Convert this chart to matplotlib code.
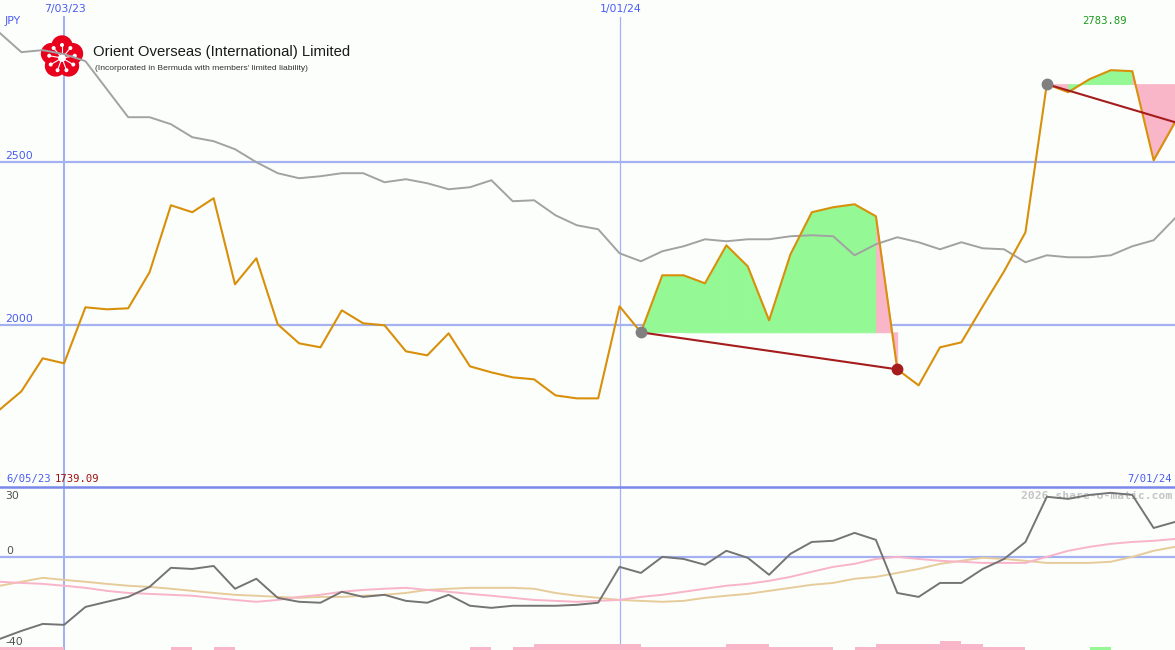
# -*- coding:utf-8 -*-

import numpy as np
import pandas as pd
import matplotlib
matplotlib.use('Agg')
import matplotlib.pyplot as plt
import matplotlib.transforms as mtransforms
from matplotlib.patches import Circle

# weekly data, 2023-06-12 .. 2024-07-01
dates = pd.date_range('2023-06-12', periods=56, freq='7D')

price = [1739.09, 1794.6, 1896.3, 1880.9, 2053.5, 2047.3, 2050.4, 2161.3, 2367.8, 2346.3,
         2389.4, 2124.4, 2204.5, 2001.1, 1942.5, 1930.2, 2044.2, 2004.2, 1998.0, 1917.9,
         1905.5, 1973.3, 1871.6, 1853.1, 1837.7, 1831.6, 1782.2, 1773.0, 1773.0, 2056.5,
         1976.4, 2152.1, 2152.1, 2127.4, 2244.5, 2179.8, 2013.4, 2216.8, 2346.3, 2361.7,
         2370.9, 2333.9, 1862.4, 1813.1, 1930.2, 1945.6, 2056.5, 2164.4, 2284.6, 2740.8,
         2716.1, 2756.2, 2783.89, 2780.8, 2506.5, 2623.6]

# comparison index (gray), rescaled to price
index_line = [2897.9, 2839.4, 2845.5, 2833.2, 2811.6, 2725.3, 2639.0, 2639.0, 2617.5, 2577.4,
              2565.1, 2540.4, 2500.4, 2466.5, 2451.0, 2457.2, 2466.5, 2466.5, 2438.7, 2448.0,
              2435.6, 2417.1, 2423.3, 2444.9, 2380.2, 2383.2, 2337.0, 2306.2, 2293.9, 2219.9,
              2195.2, 2226.1, 2241.5, 2263.0, 2256.9, 2263.0, 2263.0, 2272.3, 2275.4, 2272.3,
              2213.7, 2247.6, 2269.2, 2253.8, 2232.2, 2253.8, 2235.3, 2232.2, 2192.2, 2213.7,
              2207.6, 2207.6, 2213.7, 2241.5, 2260.0, 2327.8]

momentum = [-35.2, -31.8, -28.8, -29.2, -21.5, -19.3, -17.2, -12.9, -4.7, -5.2,
            -3.9, -13.7, -9.4, -17.6, -19.3, -19.7, -15.0, -17.2, -16.3, -18.9,
            -19.7, -16.3, -21.0, -21.9, -21.0, -21.0, -21.0, -20.6, -19.7, -4.3,
            -6.9, 0.0, -0.9, -3.4, 2.6, -0.4, -7.7, 1.3, 6.4, 6.9,
            10.3, 7.3, -15.5, -17.2, -11.2, -11.2, -5.2, -0.9, 6.4, 25.8,
            24.9, 26.6, 27.5, 26.6, 12.4, 15.0]

avg_fast = [-10.7, -11.2, -11.6, -12.4, -13.3, -14.6, -15.5, -15.9, -16.3, -16.7,
            -17.6, -18.5, -19.3, -18.5, -17.2, -16.3, -15.0, -14.2, -13.7, -13.3,
            -14.2, -15.0, -15.9, -16.7, -17.6, -18.5, -18.9, -19.3, -18.9, -18.5,
            -17.2, -16.3, -15.0, -13.7, -12.4, -11.6, -10.3, -8.6, -6.4, -4.3,
            -3.0, -0.9, 0.0, -0.9, -1.7, -2.1, -2.6, -2.6, -2.6, 0.0,
            2.6, 4.3, 5.6, 6.4, 6.9, 7.7]

avg_slow = [-12.4, -10.7, -9.0, -9.9, -10.7, -11.6, -12.4, -12.9, -13.7, -14.6,
            -15.5, -16.3, -16.7, -17.2, -17.6, -17.2, -17.2, -16.7, -16.3, -15.5,
            -14.2, -13.7, -13.3, -13.3, -13.3, -13.7, -15.5, -16.7, -17.6, -18.5,
            -18.9, -19.3, -18.9, -17.6, -16.7, -15.9, -14.6, -13.3, -12.0, -11.2,
            -9.4, -8.6, -6.9, -5.2, -3.0, -1.7, -0.4, -0.9, -1.7, -2.6,
            -2.6, -2.6, -2.1, 0.0, 2.6, 4.3]

# signal bars: negative = pink, positive = green
bar_level = [-1, -1, -1, 0, 0, 0, 0, 0, -1, 0,
             -1, 0, 0, 0, 0, 0, 0, 0, 0, 0,
             0, 0, -1, 0, -1, -2, -2, -2, -2, -2,
             -1, -1, -1, -1, -2, -2, -1, -1, -1, 0,
             -1, -2, -2, -2, -3, -2, -1, -1, 0, 0,
             0, 1, 0, 0, 0, 0]

# (start, end) week index of the marked trades
periods = [(30, 42), (49, 55)]

BG = '#fcfefc'
GRID = '#a4b2f2'
BLUE_TXT = '#4a5cf0'
GREEN_FILL = '#94f894'
PINK_FILL = '#f8b6c8'


def draw_logo(ax, px, cx, cy):
	red = '#e8001c'
	for k in range(5):
		a = np.deg2rad(-90 + 72 * k)
		ax.add_patch(Circle((cx + 11 * np.cos(a), cy + 11 * np.sin(a)), 10,
		                    color=red, transform=px, zorder=2, clip_on=False))
	ax.add_patch(Circle((cx, cy), 12, color=red, transform=px, zorder=2, clip_on=False))
	for k in range(9):
		a = np.deg2rad(-90 + 40 * k)
		x2, y2 = cx + 13 * np.cos(a), cy + 1 + 13 * np.sin(a)
		ax.plot([cx, x2], [cy + 1, y2], color='white', lw=0.8, transform=px, zorder=2.1,
		        clip_on=False)
		ax.add_patch(Circle((x2, y2), 1.3, color='white', transform=px, zorder=2.1,
		                    clip_on=False))
	ax.add_patch(Circle((cx, cy + 1), 3.2, color='white', transform=px, zorder=2.2,
	                    clip_on=False))


def plot_chart():
	fig = plt.figure(figsize=(11.75, 6.5), dpi=100, facecolor=BG)
	# pixel coords, origin top-left
	px = mtransforms.Affine2D().scale(0.01, -0.01).translate(0, 6.5) + fig.dpi_scale_trans

	ax = fig.add_axes([0, 163 / 650, 1, 487 / 650], facecolor=BG)
	ax2 = fig.add_axes([0, 0, 1, 163 / 650], facecolor=BG)
	for a in (ax, ax2):
		a.set_xlim(dates[0], dates[-1])
		for s in a.spines.values():
			s.set_visible(False)
		a.set_xticks([])
		a.set_yticks([])
	ax.set_ylim(1500, 3000)
	ax2.set_ylim(-40, 30)

	# grid
	for lvl in (2000, 2500):
		ax.axhline(lvl, color=GRID, lw=1.6, zorder=1)
	ax2.axhline(0, color=GRID, lw=1.6, zorder=1)
	ax2.axhline(30, color='#7a88ea', lw=1.8, zorder=6, clip_on=False)
	for d, w in (('2023-07-03', 1.5), ('2024-01-01', 0.9)):
		ax.axvline(pd.Timestamp(d), ymax=(487 - 17) / 487, color=GRID, lw=w, zorder=1)
		ax2.axvline(pd.Timestamp(d), color=GRID, lw=w, zorder=1)

	draw_logo(ax, px, 62, 57)

	# trade periods
	p = np.array(price)
	for s, e in periods:
		base = p[s]
		for i in range(s, e):
			col = GREEN_FILL if p[i + 1] >= base else PINK_FILL
			ax.fill_between(dates[i:i + 2], p[i:i + 2], base, color=col, ec=col, lw=0.6,
			                zorder=2.5)
	ax.plot(dates, index_line, color='#a2a2a2', lw=1.4, zorder=3)
	ax.plot(dates, price, color='#d8900a', lw=1.5, zorder=4)
	for s, e in periods:
		ax.plot([dates[s], dates[e]], [p[s], p[e]], color='#a41c1c', lw=1.5, zorder=5)
		ax.plot(dates[s], p[s], 'o', ms=7.5, color='#808080', zorder=6)
	s, e = periods[0]
	ax.plot(dates[e], p[e], 'o', ms=7.5, color='#a41c1c', zorder=6)

	# lower panel
	lv = np.array(bar_level)
	ax2.bar(dates, np.abs(lv) * 1.29, width=7, bottom=-40, align='edge',
	        color=np.where(lv > 0, GREEN_FILL, PINK_FILL), lw=0, zorder=1.5)
	ax2.plot(dates, avg_slow, color='#e6cc9a', lw=1.4, zorder=2)
	ax2.plot(dates, avg_fast, color='#f8b4c8', lw=1.4, zorder=2.1)
	ax2.plot(dates, momentum, color='#747474', lw=1.4, zorder=3)

	# texts
	sans = dict(transform=px, va='center', family='DejaVu Sans', fontsize=7.8)
	mono = dict(transform=px, va='center', family='DejaVu Sans Mono', fontsize=7.6)
	ax.text(5, 21, 'JPY', color=BLUE_TXT, **sans)
	ax.text(5, 156, '2500', color=BLUE_TXT, **sans)
	ax.text(5, 319, '2000', color=BLUE_TXT, **sans)
	ax.text(65, 9, '7/03/23', color=BLUE_TXT, ha='center', **sans)
	ax.text(621, 9, '1/01/24', color=BLUE_TXT, ha='center', **sans)
	ax.text(1082, 21, '2783.89', color='#1a9a1a', **mono)
	ax.text(6, 479, '6/05/23', color=BLUE_TXT, **mono)
	ax.text(55, 479, '1739.09', color='#a01010', **mono)
	ax.text(1172, 479, '7/01/24', color=BLUE_TXT, ha='right', **mono)
	ax2.text(5, 496, '30', color='#505050', **sans)
	ax2.text(6, 551, '0', color='#505050', **sans)
	ax2.text(5, 642, '-40', color='#505050', **sans)
	ax2.text(1172, 496, '2026 share-o-matic.com', color='#c4c4c4', ha='right',
	         weight='bold', transform=px, va='center', family='DejaVu Sans Mono',
	         fontsize=8.2, zorder=2.5)
	ax.text(93, 52, 'Orient Overseas (International) Limited', color='#1a1a1a',
	        transform=px, va='center', family='Liberation Sans', fontsize=10.7)
	ax.text(95, 68, "(Incorporated in Bermuda with members' limited liability)",
	        color='#303030', transform=px, va='center', family='Liberation Sans',
	        fontsize=6.1)

	fig.savefig('out.png', dpi=100, facecolor=BG)


if __name__ == '__main__':
	plot_chart()
